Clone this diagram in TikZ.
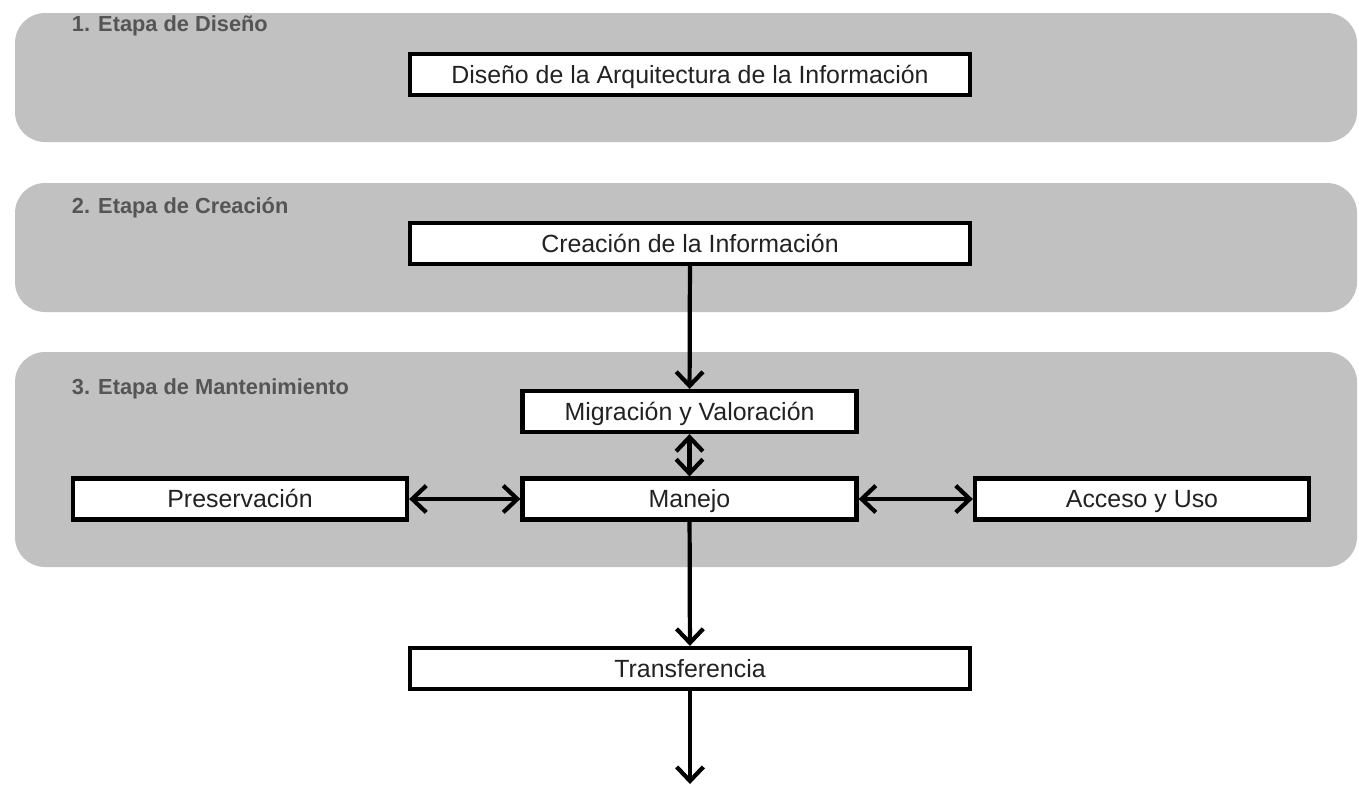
\documentclass[tikz,border=0pt]{standalone}
\usepackage{fontspec}
\setmainfont{Liberation Sans}
\usetikzlibrary{arrows.meta, positioning, calc}

\definecolor{bandgray}{HTML}{C1C1C1}
\definecolor{labelgray}{HTML}{555555}
\definecolor{boxtext}{HTML}{222222}

\begin{document}
\begin{tikzpicture}[
  x=0.025cm, y=-0.025cm,
  band/.style={
    fill=bandgray,
    draw=none,
    rounded corners=0.75cm
  },
  stage/.style={
    anchor=west,
    text=labelgray,
    font=\fontsize{15.5}{18}\selectfont\bfseries
  },
  box/.style={
    rectangle,
    draw,
    line width=3pt,
    fill=white,
    text=boxtext,
    minimum height=1.025cm,
    inner sep=0pt,
    text height=15pt,
    text depth=2.5pt,
    font=\fontsize{17.7}{20}\selectfont
  },
  wide/.style={box, minimum width=14cm},
  narrow/.style={box, minimum width=8.35cm},
  arrow/.style={-{Straight Barb[length=10pt, width=19pt]}, line width=3pt},
  darrow/.style={{Straight Barb[length=10pt, width=19pt]}-{Straight Barb[length=10pt, width=19pt]}, line width=3pt}
]

\useasboundingbox (0,0) rectangle (1359,784);

% ------------------------------------------------------------
% Stage bands
% ------------------------------------------------------------

\fill[band] (15,13) rectangle (1357,142);
\fill[band] (15,183) rectangle (1357,312);
\fill[band] (15,352) rectangle (1357,567);

\node[stage] (s1) at (67,26) {1. Etapa de Diseño};
\node[stage] (s2) at (67,208) {2. Etapa de Creación};
\node[stage] (s3) at (67,389) {3. Etapa de Mantenimiento};

% ------------------------------------------------------------
% Boxes
% ------------------------------------------------------------

\node[wide] (dis) at (690,74.5) {Diseño de la Arquitectura de la Información};
\node[wide] (cre) at (690,243.5) {Creación de la Información};
\node[narrow] (mig) at (689.5,411.5) {Migración y Valoración};
\node[narrow] (man) at (689.5,499) {Manejo};
\node[narrow] (pre) at (240,499) {Preservación};
\node[narrow] (acc) at (1142,499) {Acceso y Uso};
\node[wide] (tra) at (690,668.5) {Transferencia};

\coordinate (fin) at (690,784);

% ------------------------------------------------------------
% Connectors
% ------------------------------------------------------------

\draw[arrow] (cre) -- (mig);
\draw[darrow] (mig) -- (man);
\draw[darrow] (pre) -- (man);
\draw[darrow] (man) -- (acc);
\draw[arrow] (man) -- (tra);
\draw[arrow] (tra) -- (fin);

\end{tikzpicture}
\end{document}
